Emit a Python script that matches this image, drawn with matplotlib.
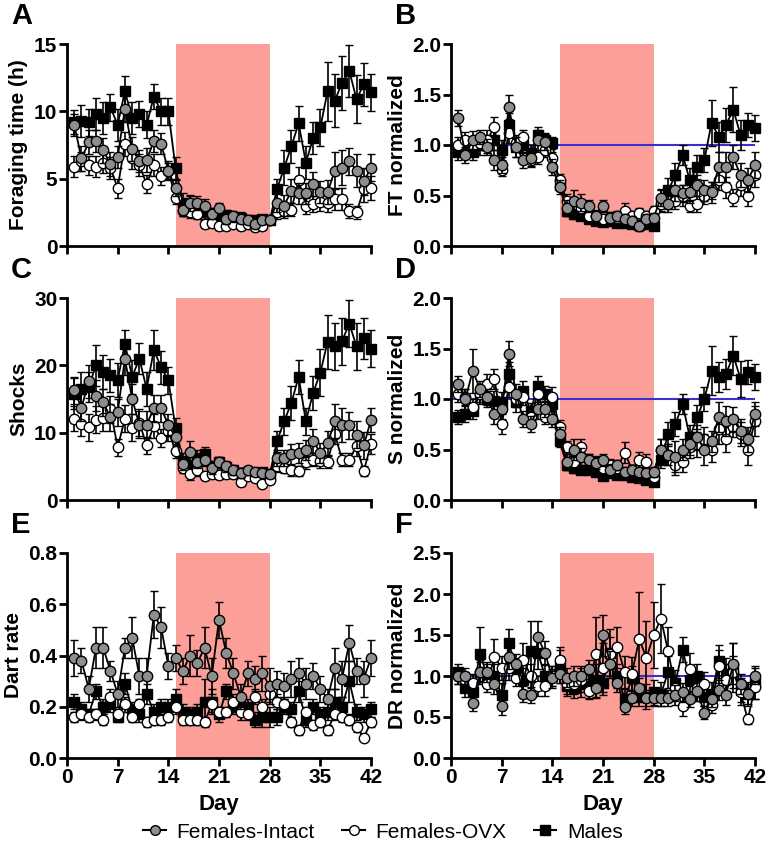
import numpy as np
import matplotlib
matplotlib.use("Agg")
import matplotlib.pyplot as plt
from matplotlib.lines import Line2D

plt.rcParams['font.family'] = ['Liberation Sans', 'DejaVu Sans']

days = np.arange(1, 43)

# A - Foraging time (h)
ft_males = [9.2, 9.3, 9.2, 9.8, 9.5, 10.3, 9.0, 11.5, 9.5, 9.8, 9.0, 11.1, 10.0, 10.0,
            5.8, 3.2, 3.0, 2.8, 2.5, 2.3, 2.2, 2.3, 2.0, 2.1, 1.9, 1.9, 2.0, 1.9,
            4.2, 5.8, 7.4, 9.1, 6.2, 8.0, 8.8, 11.5, 10.8, 12.1, 13.0, 10.9, 12.0, 11.4]
ft_males_err = [0.9, 1.2, 1.0, 1.2, 1.2, 1.0, 1.2, 1.1, 1.2, 1.0, 1.0, 0.9, 1.0, 1.0,
                0.8, 0.7, 0.7, 0.6, 0.5, 0.5, 0.4, 0.4, 0.4, 0.4, 0.3, 0.3, 0.3, 0.3,
                0.8, 1.3, 1.2, 1.3, 1.2, 1.2, 1.4, 2.2, 2.0, 2.0, 1.9, 1.8, 1.6, 1.4]
ft_intact = [9.0, 6.5, 7.7, 7.8, 7.1, 6.1, 6.6, 10.2, 7.2, 6.3, 6.4, 7.8, 7.6, 5.6,
             4.3, 2.7, 3.2, 3.2, 3.0, 2.4, 2.8, 2.0, 2.2, 2.0, 1.9, 1.6, 1.9, 1.9,
             3.2, 3.0, 4.1, 3.9, 3.9, 4.6, 4.0, 4.0, 5.6, 5.8, 6.3, 5.6, 4.8, 5.8]
ft_intact_err = [0.8, 0.9, 0.9, 0.8, 0.9, 0.9, 0.8, 1.0, 0.9, 0.8, 0.9, 0.8, 0.8, 0.7,
                 0.6, 0.5, 0.6, 0.5, 0.5, 0.4, 0.4, 0.4, 0.4, 0.3, 0.3, 0.3, 0.3, 0.3,
                 0.7, 0.8, 0.9, 0.8, 0.8, 0.9, 0.8, 0.9, 1.4, 1.3, 1.0, 1.2, 1.0, 1.0]
ft_ovx = [5.9, 6.3, 6.0, 5.9, 6.2, 5.8, 4.3, 7.6, 6.5, 6.0, 4.6, 6.0, 5.2, 5.6,
          3.6, 2.6, 2.5, 2.4, 1.6, 1.7, 1.5, 1.5, 1.6, 1.5, 1.6, 1.4, 1.5, 1.9,
          2.5, 2.6, 2.7, 4.9, 3.0, 3.1, 3.3, 3.2, 3.5, 3.5, 2.6, 2.5, 4.2, 4.3]
ft_ovx_err = [0.8, 0.7, 0.7, 0.8, 0.8, 0.8, 0.7, 0.9, 0.8, 0.8, 0.7, 0.8, 0.7, 0.6,
              0.5, 0.4, 0.4, 0.4, 0.3, 0.3, 0.3, 0.3, 0.3, 0.3, 0.3, 0.3, 0.3, 0.3,
              0.5, 0.5, 0.5, 1.0, 0.6, 0.6, 0.7, 0.7, 0.8, 0.8, 0.5, 0.5, 0.9, 0.9]

# B - FT normalized
ftn_males = [0.93, 0.95, 0.93, 1.0, 1.0, 1.05, 0.95, 1.2, 0.98, 1.0, 0.92, 1.1, 1.05, 1.02,
             0.6, 0.35, 0.32, 0.3, 0.27, 0.25, 0.24, 0.25, 0.23, 0.23, 0.22, 0.21, 0.22, 0.2,
             0.45, 0.55, 0.7, 0.9, 0.65, 0.78, 0.85, 1.22, 1.08, 1.2, 1.35, 1.1, 1.2, 1.17]
ftn_males_err = [0.08, 0.07, 0.08, 0.1, 0.08, 0.1, 0.1, 0.12, 0.1, 0.08, 0.08, 0.08, 0.07, 0.06,
                 0.06, 0.05, 0.05, 0.04, 0.04, 0.03, 0.03, 0.03, 0.03, 0.03, 0.03, 0.03, 0.03, 0.03,
                 0.1, 0.12, 0.12, 0.1, 0.12, 0.12, 0.12, 0.23, 0.15, 0.17, 0.22, 0.15, 0.12, 0.13]
ftn_intact = [1.27, 0.9, 1.05, 1.08, 0.98, 0.85, 0.8, 1.38, 0.98, 0.85, 0.87, 1.05, 1.03, 0.78,
              0.58, 0.38, 0.45, 0.43, 0.4, 0.3, 0.4, 0.28, 0.3, 0.27, 0.25, 0.2, 0.27, 0.28,
              0.48, 0.42, 0.55, 0.52, 0.53, 0.6, 0.55, 0.53, 0.78, 0.78, 0.88, 0.7, 0.65, 0.8]
ftn_intact_err = [0.08, 0.08, 0.09, 0.07, 0.08, 0.1, 0.08, 0.12, 0.1, 0.08, 0.08, 0.1, 0.08, 0.08,
                  0.07, 0.08, 0.1, 0.08, 0.06, 0.06, 0.06, 0.06, 0.05, 0.05, 0.05, 0.05, 0.05, 0.05,
                  0.08, 0.08, 0.1, 0.08, 0.1, 0.1, 0.1, 0.1, 0.15, 0.15, 0.12, 0.12, 0.12, 0.13]
ftn_ovx = [1.0, 1.05, 1.0, 1.02, 1.05, 1.18, 0.75, 1.12, 1.02, 1.08, 0.85, 0.88, 0.95, 0.87,
           0.65, 0.45, 0.42, 0.38, 0.3, 0.3, 0.27, 0.28, 0.28, 0.35, 0.3, 0.33, 0.3, 0.35,
           0.42, 0.45, 0.45, 0.5, 0.4, 0.42, 0.5, 0.55, 0.65, 0.58, 0.48, 0.6, 0.5, 0.7]
ftn_ovx_err = [0.08, 0.08, 0.08, 0.07, 0.1, 0.1, 0.06, 0.1, 0.08, 0.07, 0.07, 0.07, 0.07, 0.06,
               0.06, 0.06, 0.06, 0.05, 0.05, 0.05, 0.05, 0.06, 0.05, 0.08, 0.05, 0.05, 0.05, 0.05,
               0.08, 0.08, 0.08, 0.1, 0.06, 0.08, 0.08, 0.08, 0.1, 0.1, 0.08, 0.1, 0.1, 0.12]

# C - Shocks
sh_males = [15.8, 16.5, 16.8, 20.0, 19.0, 18.5, 17.8, 23.2, 18.3, 21.0, 16.5, 22.3, 19.7, 17.8,
            10.7, 5.8, 5.0, 6.3, 6.8, 5.0, 5.6, 4.9, 4.5, 4.0, 4.2, 3.9, 4.1, 3.8,
            8.7, 11.7, 14.4, 18.3, 11.7, 15.9, 18.9, 23.5, 22.8, 23.6, 26.2, 22.8, 24.0, 22.5]
sh_males_err = [2.3, 2.5, 2.2, 3.0, 2.5, 2.5, 2.5, 2.0, 2.5, 2.3, 2.5, 3.0, 2.5, 2.0,
                1.5, 1.2, 1.0, 1.2, 1.0, 0.8, 0.8, 0.8, 0.7, 0.7, 0.7, 0.6, 0.6, 0.6,
                1.5, 2.0, 2.5, 2.5, 2.0, 2.5, 3.5, 4.0, 3.5, 3.5, 3.5, 3.5, 3.0, 2.7]
sh_intact = [16.3, 13.7, 17.6, 15.5, 14.5, 12.3, 13.0, 21.0, 15.0, 11.2, 11.2, 13.6, 13.6, 11.2,
             9.3, 5.4, 7.2, 5.7, 6.0, 4.7, 5.6, 5.0, 4.4, 4.0, 4.4, 4.1, 4.0, 3.8,
             6.3, 6.2, 6.8, 7.0, 7.4, 8.8, 7.0, 8.4, 11.7, 11.1, 11.1, 9.7, 8.1, 11.9]
sh_intact_err = [2.0, 2.0, 2.5, 2.3, 2.0, 2.0, 2.0, 2.5, 2.3, 2.0, 2.0, 2.0, 2.0, 1.5,
                 1.3, 1.0, 1.5, 1.0, 1.0, 0.8, 0.8, 0.8, 0.7, 0.7, 0.7, 0.6, 0.6, 0.6,
                 1.2, 1.2, 1.5, 1.5, 1.5, 1.8, 1.5, 1.8, 2.5, 2.5, 2.0, 2.0, 2.0, 1.8]
sh_ovx = [12.1, 11.3, 10.8, 11.9, 12.2, 13.5, 7.8, 12.1, 10.7, 11.5, 8.1, 11.0, 9.2, 10.3,
          7.3, 4.8, 3.8, 4.4, 3.6, 3.8, 3.7, 3.8, 3.9, 2.6, 3.6, 3.3, 2.4, 3.0,
          5.0, 4.8, 4.4, 4.3, 5.6, 6.0, 5.8, 5.7, 9.8, 6.0, 6.0, 8.0, 4.3, 8.3]
sh_ovx_err = [1.8, 1.8, 2.0, 2.0, 2.0, 2.0, 1.2, 2.0, 2.0, 2.0, 1.3, 1.8, 1.3, 1.5,
              1.0, 0.8, 0.8, 0.8, 0.6, 0.6, 0.6, 0.6, 0.6, 0.5, 0.6, 0.5, 0.5, 0.5,
              0.8, 0.8, 0.8, 0.8, 1.0, 1.0, 1.0, 1.0, 1.5, 1.0, 1.0, 1.5, 0.8, 1.5]

# D - S normalized
shn_males = [0.82, 0.85, 0.88, 1.05, 1.0, 0.98, 0.97, 1.25, 0.97, 1.08, 0.88, 1.13, 1.05, 0.95,
             0.58, 0.35, 0.32, 0.3, 0.3, 0.28, 0.24, 0.27, 0.25, 0.25, 0.23, 0.22, 0.2, 0.18,
             0.4, 0.65, 0.75, 0.95, 0.62, 0.82, 1.0, 1.28, 1.22, 1.25, 1.43, 1.2, 1.27, 1.22]
shn_males_err = [0.07, 0.08, 0.08, 0.1, 0.08, 0.1, 0.1, 0.12, 0.1, 0.1, 0.08, 0.1, 0.08, 0.07,
                 0.06, 0.05, 0.05, 0.04, 0.04, 0.04, 0.03, 0.03, 0.03, 0.03, 0.03, 0.03, 0.03, 0.03,
                 0.08, 0.12, 0.12, 0.1, 0.12, 0.12, 0.12, 0.24, 0.15, 0.15, 0.19, 0.18, 0.12, 0.13]
shn_intact = [1.15, 1.0, 1.28, 1.1, 1.02, 0.85, 0.9, 1.45, 1.05, 0.8, 0.75, 0.9, 0.9, 0.8,
              0.65, 0.38, 0.5, 0.43, 0.4, 0.37, 0.4, 0.3, 0.35, 0.28, 0.3, 0.28, 0.27, 0.28,
              0.5, 0.45, 0.43, 0.5, 0.55, 0.62, 0.5, 0.58, 0.82, 0.78, 0.8, 0.68, 0.6, 0.85]
shn_intact_err = [0.08, 0.1, 0.22, 0.08, 0.08, 0.1, 0.1, 0.12, 0.1, 0.08, 0.08, 0.1, 0.08, 0.08,
                  0.07, 0.08, 0.1, 0.08, 0.06, 0.06, 0.06, 0.06, 0.05, 0.05, 0.05, 0.05, 0.05, 0.05,
                  0.1, 0.1, 0.15, 0.1, 0.1, 0.12, 0.15, 0.1, 0.15, 0.15, 0.12, 0.12, 0.12, 0.12]
shn_ovx = [1.05, 1.02, 0.92, 1.05, 1.15, 1.2, 0.75, 1.12, 1.0, 1.02, 0.82, 1.05, 0.82, 1.02,
           0.72, 0.52, 0.38, 0.52, 0.4, 0.38, 0.32, 0.35, 0.32, 0.47, 0.3, 0.4, 0.38, 0.23,
           0.5, 0.45, 0.35, 0.38, 0.52, 0.55, 0.6, 0.5, 0.7, 0.6, 0.72, 0.65, 0.5, 0.78]
shn_ovx_err = [0.08, 0.08, 0.08, 0.08, 0.1, 0.1, 0.1, 0.1, 0.08, 0.08, 0.08, 0.08, 0.07, 0.1,
               0.07, 0.06, 0.06, 0.08, 0.06, 0.06, 0.05, 0.06, 0.05, 0.1, 0.05, 0.08, 0.08, 0.05,
               0.1, 0.1, 0.1, 0.1, 0.1, 0.12, 0.12, 0.12, 0.15, 0.12, 0.1, 0.12, 0.15, 0.15]

# E - Dart rate
dr_males = [0.22, 0.19, 0.17, 0.26, 0.2, 0.21, 0.16, 0.29, 0.19, 0.17, 0.25, 0.18, 0.2, 0.2,
            0.23, 0.18, 0.17, 0.18, 0.22, 0.22, 0.17, 0.26, 0.2, 0.2, 0.2, 0.15, 0.16, 0.16,
            0.16, 0.2, 0.19, 0.26, 0.15, 0.2, 0.17, 0.18, 0.22, 0.2, 0.3, 0.18, 0.17, 0.19]
dr_males_err = [0.03, 0.03, 0.02, 0.03, 0.03, 0.03, 0.02, 0.04, 0.03, 0.03, 0.04, 0.03, 0.03, 0.03,
                0.04, 0.03, 0.03, 0.03, 0.09, 0.05, 0.03, 0.03, 0.03, 0.03, 0.03, 0.03, 0.04, 0.04,
                0.03, 0.03, 0.03, 0.04, 0.03, 0.03, 0.03, 0.03, 0.05, 0.04, 0.08, 0.03, 0.03, 0.03]
dr_intact = [0.39, 0.38, 0.27, 0.43, 0.43, 0.34, 0.25, 0.43, 0.47, 0.32, 0.32, 0.56, 0.51, 0.36,
             0.39, 0.34, 0.4, 0.37, 0.43, 0.32, 0.54, 0.41, 0.33, 0.24, 0.33, 0.31, 0.33, 0.28,
             0.29, 0.28, 0.31, 0.33, 0.29, 0.32, 0.27, 0.23, 0.35, 0.31, 0.45, 0.34, 0.31, 0.39]
dr_intact_err = [0.07, 0.05, 0.05, 0.08, 0.08, 0.04, 0.05, 0.04, 0.08, 0.07, 0.07, 0.09, 0.08, 0.05,
                 0.05, 0.05, 0.08, 0.05, 0.08, 0.07, 0.07, 0.06, 0.06, 0.05, 0.05, 0.05, 0.07, 0.07,
                 0.05, 0.05, 0.07, 0.06, 0.06, 0.05, 0.05, 0.04, 0.08, 0.07, 0.07, 0.05, 0.07, 0.07]
dr_ovx = [0.16, 0.17, 0.16, 0.17, 0.15, 0.24, 0.17, 0.21, 0.16, 0.21, 0.14, 0.15, 0.15, 0.16,
          0.2, 0.15, 0.15, 0.15, 0.14, 0.21, 0.18, 0.18, 0.22, 0.18, 0.17, 0.24, 0.2, 0.25,
          0.22, 0.21, 0.14, 0.11, 0.18, 0.13, 0.14, 0.11, 0.17, 0.16, 0.15, 0.12, 0.08, 0.14]
dr_ovx_err = [0.02, 0.02, 0.02, 0.02, 0.02, 0.03, 0.02, 0.03, 0.02, 0.02, 0.02, 0.02, 0.02, 0.02,
              0.03, 0.02, 0.02, 0.02, 0.02, 0.03, 0.02, 0.02, 0.03, 0.03, 0.02, 0.03, 0.03, 0.03,
              0.03, 0.03, 0.02, 0.02, 0.02, 0.02, 0.02, 0.02, 0.02, 0.02, 0.02, 0.02, 0.01, 0.02]

# F - DR normalized
drn_males = [1.05, 0.85, 0.8, 1.27, 1.0, 1.0, 0.77, 1.4, 1.1, 0.95, 1.3, 1.28, 1.0, 1.0,
             1.12, 0.88, 0.85, 0.9, 0.88, 0.95, 0.92, 1.28, 1.0, 0.72, 0.97, 0.75, 0.75, 0.8,
             0.78, 1.05, 0.92, 1.32, 0.95, 1.0, 0.75, 0.78, 1.18, 1.02, 1.1, 0.83, 0.78, 0.92]
drn_males_err = [0.1, 0.1, 0.12, 0.33, 0.15, 0.15, 0.15, 0.17, 0.12, 0.15, 0.37, 0.2, 0.15, 0.12,
                 0.2, 0.12, 0.12, 0.15, 0.15, 0.2, 0.15, 0.2, 0.15, 0.12, 0.15, 0.12, 0.15, 0.15,
                 0.15, 0.2, 0.15, 0.15, 0.15, 0.15, 0.12, 0.15, 0.2, 0.2, 0.3, 0.15, 0.15, 0.2]
drn_intact = [1.0, 1.0, 0.67, 1.05, 1.05, 0.9, 0.63, 1.23, 1.15, 0.78, 0.77, 1.47, 1.28, 0.97,
              1.03, 0.98, 1.0, 1.0, 1.08, 0.85, 1.5, 1.15, 0.92, 0.62, 0.73, 0.85, 0.73, 0.73,
              0.73, 0.73, 0.77, 0.8, 0.72, 0.82, 0.55, 0.72, 0.83, 0.77, 1.15, 0.9, 0.78, 1.0]
drn_intact_err = [0.1, 0.1, 0.1, 0.12, 0.12, 0.12, 0.1, 0.15, 0.12, 0.1, 0.1, 0.2, 0.15, 0.12,
                  0.12, 0.12, 0.12, 0.12, 0.12, 0.12, 0.25, 0.15, 0.12, 0.08, 0.1, 0.12, 0.1, 0.1,
                  0.1, 0.1, 0.12, 0.12, 0.1, 0.12, 0.08, 0.1, 0.12, 0.12, 0.25, 0.12, 0.12, 0.1]
drn_ovx = [1.0, 0.95, 0.92, 1.05, 0.9, 1.23, 1.1, 1.1, 0.98, 1.2, 1.0, 0.88, 0.88, 1.0,
           1.2, 0.9, 0.9, 0.95, 0.82, 1.27, 1.1, 1.27, 1.35, 1.05, 1.03, 1.45, 1.22, 1.5,
           1.7, 1.3, 0.85, 0.63, 1.08, 0.85, 0.9, 0.65, 1.12, 0.95, 1.05, 0.8, 0.47, 0.87]
drn_ovx_err = [0.1, 0.1, 0.1, 0.15, 0.1, 0.22, 0.15, 0.15, 0.1, 0.2, 0.15, 0.12, 0.12, 0.12,
               0.15, 0.12, 0.12, 0.15, 0.1, 0.45, 0.3, 0.3, 0.25, 0.2, 0.2, 0.58, 0.45, 0.4,
               0.42, 0.3, 0.15, 0.12, 0.2, 0.15, 0.15, 0.1, 0.2, 0.2, 0.2, 0.15, 0.06, 0.15]

panels = [
    ("A", "Foraging time (h)", (0, 15), [0, 5, 10, 15], "{:.0f}", False,
     ft_males, ft_males_err, ft_ovx, ft_ovx_err, ft_intact, ft_intact_err),
    ("B", "FT normalized", (0, 2.0), [0, 0.5, 1.0, 1.5, 2.0], "{:.1f}", True,
     ftn_males, ftn_males_err, ftn_ovx, ftn_ovx_err, ftn_intact, ftn_intact_err),
    ("C", "Shocks", (0, 30), [0, 10, 20, 30], "{:.0f}", False,
     sh_males, sh_males_err, sh_ovx, sh_ovx_err, sh_intact, sh_intact_err),
    ("D", "S normalized", (0, 2.0), [0, 0.5, 1.0, 1.5, 2.0], "{:.1f}", True,
     shn_males, shn_males_err, shn_ovx, shn_ovx_err, shn_intact, shn_intact_err),
    ("E", "Dart rate", (0, 0.8), [0, 0.2, 0.4, 0.6, 0.8], "{:.1f}", False,
     dr_males, dr_males_err, dr_ovx, dr_ovx_err, dr_intact, dr_intact_err),
    ("F", "DR normalized", (0, 2.5), [0, 0.5, 1.0, 1.5, 2.0, 2.5], "{:.1f}", True,
     drn_males, drn_males_err, drn_ovx, drn_ovx_err, drn_intact, drn_intact_err),
]

W, H = 766, 850
fig = plt.figure(figsize=(W / 100, H / 100), dpi=100)

col_x = [(67, 371), (451, 755)]
row_y = [(44, 246), (298, 500), (553, 758)]

shade = "#fc9f99"
grey = "#8e8e8e"
blue = "#3b2fd4"

for i, p in enumerate(panels):
    letra, ylab, ylim, yt, fmt, norm, m, me, o, oe, it, ie = p
    r, c = divmod(i, 2)
    x0, x1 = col_x[c]
    y0, y1 = row_y[r]
    ax = fig.add_axes([x0 / W, 1 - y1 / H, (x1 - x0) / W, (y1 - y0) / H])

    ax.axvspan(15, 28, color=shade, lw=0, zorder=0)
    if norm:
        ax.axhline(1.0, color=blue, lw=1.5, zorder=1.5)

    estilo = dict(color="black", lw=1.3, elinewidth=1.2, capsize=3, capthick=1.2,
                  mec="black", mew=1.0, ms=7.5)
    e = ax.errorbar(days, m, yerr=me, marker="s", mfc="black", zorder=3, **estilo)
    e2 = ax.errorbar(days, o, yerr=oe, marker="o", mfc="white", zorder=4, **estilo)
    e3 = ax.errorbar(days, it, yerr=ie, marker="o", mfc=grey, zorder=5, **estilo)
    for cont in (e, e2, e3):
        for art in cont.get_children():
            art.set_clip_on(False)

    ax.set_xlim(0, 42)
    ax.set_ylim(*ylim)
    ax.set_xticks([0, 7, 14, 21, 28, 35, 42])
    ax.set_yticks(yt)
    ax.set_yticklabels([fmt.format(v) for v in yt], fontsize=15, fontweight="bold")
    if r == 2:
        ax.set_xticklabels(["0", "7", "14", "21", "28", "35", "42"],
                           fontsize=15, fontweight="bold")
        ax.set_xlabel("Day", fontsize=16, fontweight="bold", labelpad=5)
    else:
        ax.set_xticklabels([])

    for s in ["top", "right"]:
        ax.spines[s].set_visible(False)
    for s in ["left", "bottom"]:
        ax.spines[s].set_linewidth(2)
    ax.tick_params(direction="out", length=6, width=2, pad=1)

    ax.set_ylabel(ylab, fontsize=15, fontweight="bold", labelpad=4)
    fig.text((x0 - 56) / W, 1 - (y0 - 28) / H, letra, fontsize=21, fontweight="bold",
             ha="left", va="center")

# legenda
handles = [
    Line2D([], [], color="black", lw=1.5, marker="o", mfc=grey, mec="black", ms=7),
    Line2D([], [], color="black", lw=1.5, marker="o", mfc="white", mec="black", ms=7),
    Line2D([], [], color="black", lw=1.5, marker="s", mfc="black", mec="black", ms=7),
]
fig.legend(handles, ["Females-Intact", "Females-OVX", "Males"], loc="center",
           bbox_to_anchor=(0.5, 1 - 832 / H), ncol=3, frameon=False, fontsize=15,
           handlelength=1.1, columnspacing=1.3, handletextpad=0.5)

fig.savefig("out.png", dpi=100)
